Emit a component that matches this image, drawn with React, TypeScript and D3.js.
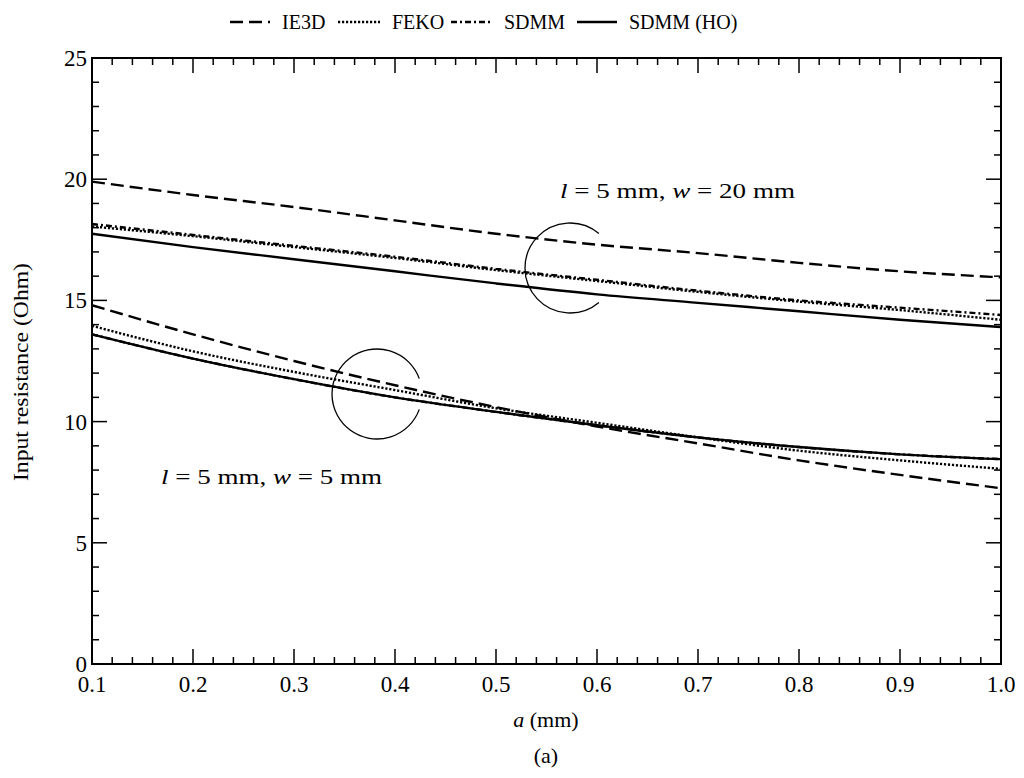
import React from "react";
import * as d3 from "d3";

const aValues = [0.1, 0.2, 0.3, 0.4, 0.5, 0.6, 0.7, 0.8, 0.9, 1.0];
// w = 20 mm group
const ie3dW20 = [19.9, 19.35, 18.85, 18.3, 17.75, 17.3, 16.95, 16.55, 16.2, 15.95];
const fekoW20 = [18.05, 17.65, 17.2, 16.75, 16.25, 15.8, 15.35, 14.95, 14.6, 14.2];
const sdmmW20 = [18.15, 17.7, 17.25, 16.8, 16.3, 15.85, 15.4, 15.0, 14.7, 14.4];
const hoW20 = [17.75, 17.2, 16.7, 16.2, 15.7, 15.25, 14.9, 14.55, 14.2, 13.9];
// w = 5 mm group
const ie3dW5 = [14.8, 13.6, 12.5, 11.5, 10.6, 9.8, 9.1, 8.4, 7.8, 7.25];
const fekoW5 = [13.95, 12.9, 12.05, 11.3, 10.55, 9.95, 9.35, 8.8, 8.4, 8.05];
const sdmmW5 = [13.6, 12.6, 11.75, 11.0, 10.4, 9.85, 9.35, 8.95, 8.65, 8.45];
const hoW5 = [13.6, 12.6, 11.75, 11.0, 10.4, 9.85, 9.35, 8.95, 8.65, 8.45];

const xTicks = [0.1, 0.2, 0.3, 0.4, 0.5, 0.6, 0.7, 0.8, 0.9, 1.0];
const yTicks = [0, 5, 10, 15, 20, 25];
const legendNames = ["IE3D", "FEKO", "SDMM", "SDMM (HO)"];

const DASH: Record<string, string> = {
  IE3D: "13,6",
  FEKO: "2.2,1.8",
  SDMM: "6,3,2,3",
  "SDMM (HO)": "",
};

const L = 92, R = 1001, T = 58, B = 664;
const FONT = "Liberation Serif, 'Times New Roman', serif";
const ts = { fontFamily: FONT };

export default function App() {
  const x = d3.scaleLinear().domain([0.1, 1.0]).range([L, R]);
  const y = d3.scaleLinear().domain([0, 25]).range([B, T]);
  const line = d3
    .line<number>()
    .x((_, i) => x(aValues[i]))
    .y((d) => y(d))
    .curve(d3.curveMonotoneX);

  const series = [
    { name: "IE3D", data: ie3dW20 },
    { name: "IE3D", data: ie3dW5 },
    { name: "FEKO", data: fekoW20 },
    { name: "FEKO", data: fekoW5 },
    { name: "SDMM", data: sdmmW20 },
    { name: "SDMM", data: sdmmW5 },
    { name: "SDMM (HO)", data: hoW20 },
    { name: "SDMM (HO)", data: hoW5 },
  ];

  const xMinor = d3.range(0.1, 1.0001, 0.02).map((v) => +v.toFixed(2));
  const yMinor = d3.range(0, 25.001, 1);

  const arc = (cx: number, cy: number, r: number, gapDeg: number) => {
    const a0 = (gapDeg * Math.PI) / 180;
    const x0 = cx + r * Math.cos(a0), y0 = cy - r * Math.sin(a0);
    const x1 = cx + r * Math.cos(-a0), y1 = cy - r * Math.sin(-a0);
    return `M${x0},${y0} A${r},${r} 0 1 0 ${x1},${y1}`;
  };

  const legendItems = [
    { name: legendNames[0], l0: 230, l1: 270, tx: 282 },
    { name: legendNames[1], l0: 338, l1: 380, tx: 392 },
    { name: legendNames[2], l0: 451, l1: 493, tx: 504 },
    { name: legendNames[3], l0: 577, l1: 617, tx: 629 },
  ];

  return (
    <svg width={1024} height={778} style={{ display: "block", position: "absolute", left: 0, top: 0, fontFamily: FONT }}>
      <rect width={1024} height={778} fill="#fff" />
      {/* legend */}
      {legendItems.map((it) => (
        <g key={it.name}>
          <line x1={it.l0} x2={it.l1} y1={22} y2={22} stroke="#000" strokeWidth={2.5} strokeDasharray={DASH[it.name]} />
          <text x={it.tx} y={29} fontSize={20} style={ts}>{it.name}</text>
        </g>
      ))}
      {/* curves */}
      {series.map((s, i) => (
        <path key={i} d={line(s.data) || ""} fill="none" stroke="#000" strokeWidth={2.4} strokeDasharray={DASH[s.name]} />
      ))}
      {/* ticks */}
      {xMinor.map((v, i) => {
        const major = xTicks.some((t) => Math.abs(t - v) < 1e-6);
        const len = major ? 15 : 7;
        return (
          <g key={"xm" + i}>
            <line x1={x(v)} x2={x(v)} y1={B} y2={B - len} stroke="#000" strokeWidth={1.5} />
            <line x1={x(v)} x2={x(v)} y1={T} y2={T + len} stroke="#000" strokeWidth={1.5} />
          </g>
        );
      })}
      {yMinor.map((v, i) => {
        const major = v % 5 === 0;
        const len = major ? 15 : 7;
        return (
          <g key={"ym" + i}>
            <line x1={L} x2={L + len} y1={y(v)} y2={y(v)} stroke="#000" strokeWidth={1.5} />
            <line x1={R} x2={R - len} y1={y(v)} y2={y(v)} stroke="#000" strokeWidth={1.5} />
          </g>
        );
      })}
      <rect x={L} y={T} width={R - L} height={B - T} fill="none" stroke="#000" strokeWidth={2} />
      {/* tick labels */}
      {xTicks.map((t) => (
        <text key={"xl" + t} x={x(t)} y={692} fontSize={23} textAnchor="middle" style={ts}>{t.toFixed(1)}</text>
      ))}
      {yTicks.map((t) => (
        <text key={"yl" + t} x={87} y={y(t) + 8} fontSize={23} textAnchor="end" style={ts}>{t}</text>
      ))}
      {/* axis titles */}
      <text x={546} y={727} fontSize={22} textAnchor="middle" style={ts}><tspan fontStyle="italic">a</tspan> (mm)</text>
      <text x={546} y={763} fontSize={22} textAnchor="middle" style={ts}>(a)</text>
      <text transform={`translate(28, 372) rotate(-90)`} fontSize={21} textAnchor="middle" style={ts} textLength={218} lengthAdjust="spacingAndGlyphs">Input resistance (Ohm)</text>
      {/* annotations */}
      <path d={arc(570, 268, 45, 50)} fill="none" stroke="#000" strokeWidth={1.3} />
      <path d={arc(377, 394, 45, 20)} fill="none" stroke="#000" strokeWidth={1.3} />
      <text x={560} y={198} fontSize={22} style={ts} textLength={235} lengthAdjust="spacingAndGlyphs"><tspan fontStyle="italic">l</tspan> = 5 mm, <tspan fontStyle="italic">w</tspan> = 20 mm</text>
      <text x={161} y={484} fontSize={22} style={ts} textLength={221} lengthAdjust="spacingAndGlyphs"><tspan fontStyle="italic">l</tspan> = 5 mm, <tspan fontStyle="italic">w</tspan> = 5 mm</text>
    </svg>
  );
}
